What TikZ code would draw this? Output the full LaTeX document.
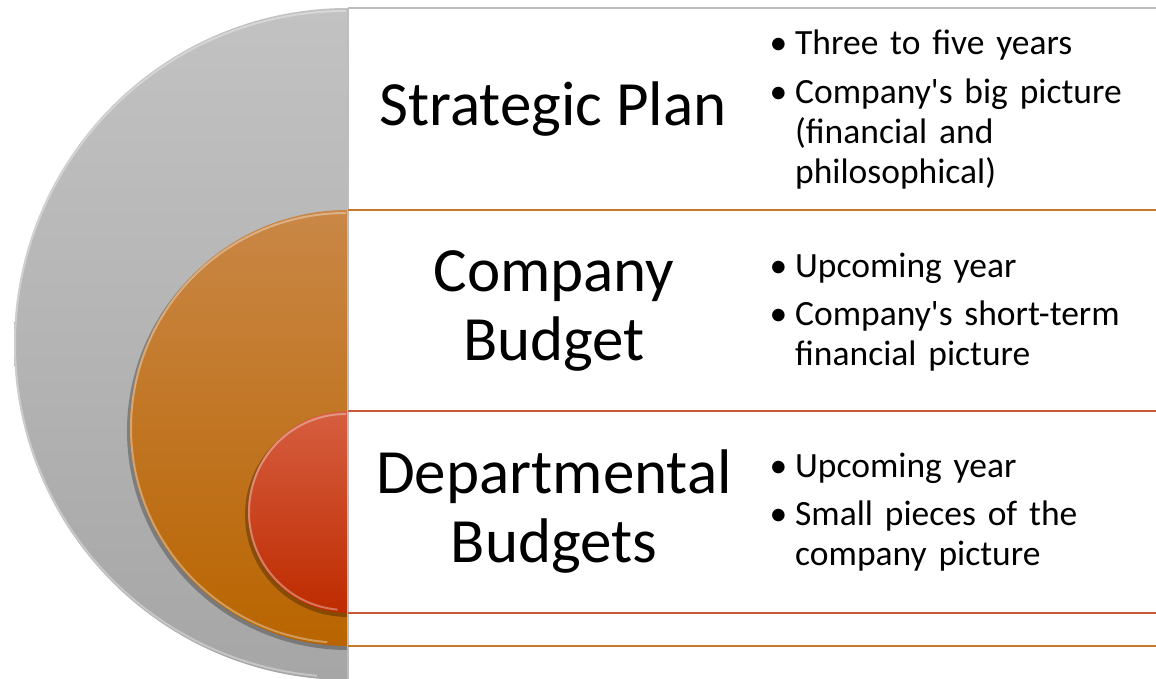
\documentclass[tikz,border=0pt]{standalone}
\usepackage{fontspec}
\setmainfont{Carlito}

\definecolor{greytop}{HTML}{C2C2C2}
\definecolor{greybot}{HTML}{A6A6A6}
\definecolor{ambertop}{HTML}{C98746}
\definecolor{amberbot}{HTML}{B96400}
\definecolor{rusttop}{HTML}{D65E40}
\definecolor{rustbot}{HTML}{BE2B00}
\definecolor{amberline}{HTML}{C87A2A}
\definecolor{rustline}{HTML}{C9583A}
\definecolor{greyline}{HTML}{BDBDBD}

% bullet hung to the left of the text
\newcommand{\bul}{\llap{\textbullet\hspace{8pt}}}

\begin{document}
\begin{tikzpicture}[x=1pt,y=-1pt,
    title/.style={align=center, font=\fontsize{63}{69}\selectfont},
    point/.style={anchor=base west, text width=360pt, align=left, inner sep=0pt,
      font=\fontsize{35.5}{40}\selectfont},
    rule/.style={line width=1.4pt},
    rim/.style={white, opacity=0.35, line width=2pt},
    drop/.style={black, opacity=0.28}]
  \useasboundingbox (0,0) rectangle (1156,679);

  % the three half discs, largest first
  \shade[top color=greytop, bottom color=greybot]
    (348,8) arc[start angle=270, end angle=90, x radius=334, y radius=336] -- cycle;
  \draw[rim] (346,11) arc[start angle=270, end angle=95, x radius=331, y radius=333];

  \fill[drop] (348,212) arc[start angle=270, end angle=90, x radius=221, y radius=219] -- cycle;
  \shade[top color=ambertop, bottom color=amberbot]
    (348,210) arc[start angle=270, end angle=90, x radius=218, y radius=218] -- cycle;
  \draw[rim] (346,213) arc[start angle=270, end angle=95, x radius=215, y radius=215];

  \fill[drop] (348,413) arc[start angle=270, end angle=90, x radius=103, y radius=102] -- cycle;
  \shade[top color=rusttop, bottom color=rustbot]
    (348,411) arc[start angle=270, end angle=90, x radius=100, y radius=101] -- cycle;
  \draw[rim] (346,414) arc[start angle=270, end angle=95, x radius=97, y radius=98];

  % separator lines of the text panel
  \draw[greyline, line width=1.2pt] (348,8) -- (348,679);
  \draw[greyline, rule] (348,8) -- (1156,8);
  \draw[amberline, rule] (348,210) -- (1156,210);
  \draw[rustline, rule] (348,411) -- (1156,411);
  \draw[rustline, rule] (348,613) -- (1156,613);
  \draw[amberline, rule] (348,646) -- (1156,646);

  % level titles
  \node[title] (sp) at (553,109) {Strategic Plan};
  \node[title] (cb) at (554,311) {Company\\Budget};
  \node[title] (db) at (554,512) {Departmental\\Budgets};

  % bullet points
  \node[point] (sp1) at (795,55) {\bul Three to five years};
  \node[point] (sp2) at (795,104) {\bul Company\textquotesingle s big picture\\(financial and\\philosophical)};
  \node[point] (cb1) at (795,277) {\bul Upcoming year};
  \node[point] (cb2) at (795,325) {\bul Company\textquotesingle s short-term\\financial picture};
  \node[point] (db1) at (795,477) {\bul Upcoming year};
  \node[point] (db2) at (795,525) {\bul Small pieces of the\\company picture};
\end{tikzpicture}
\end{document}
